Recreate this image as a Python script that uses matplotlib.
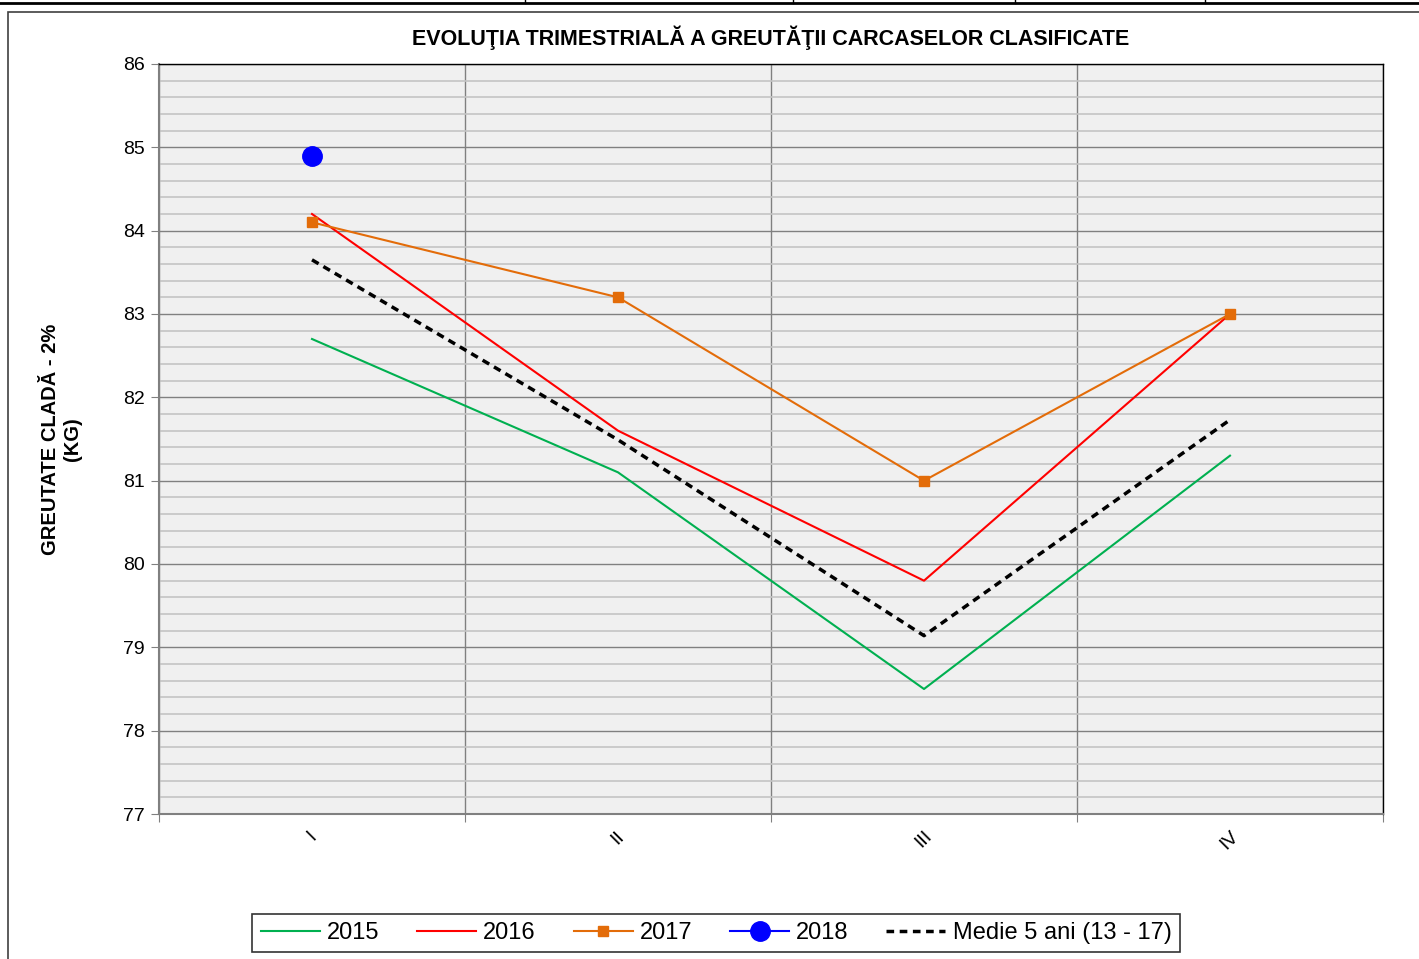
import matplotlib.pyplot as plt
from matplotlib.lines import Line2D
from matplotlib.patches import Rectangle

# quarterly carcass weight (kg)
quarters = ["I", "II", "III", "IV"]
w2015 = [82.7, 81.1, 78.5, 81.3]
w2016 = [84.2, 81.6, 79.8, 83.0]
w2017 = [84.1, 83.2, 81.0, 83.0]
w2018 = [84.9]
medie = [83.65, 81.49, 79.14, 81.73]

plt.rcParams['font.family'] = ['Liberation Sans', 'DejaVu Sans']

fig = plt.figure(figsize=(14.19, 9.59), dpi=100)

# frame around the chart and the table strip above it
fig.patches.append(Rectangle((8 / 1419, -0.01), 1.02, 1 - 12 / 959 + 0.01,
                             transform=fig.transFigure, fill=False,
                             edgecolor='#404040', linewidth=1.2))
fig.add_artist(Line2D([0, 1], [1 - 3 / 959, 1 - 3 / 959], transform=fig.transFigure,
                      color='black', linewidth=2))
for xp in [525, 793, 1015, 1205]:
    fig.add_artist(Line2D([xp / 1419, xp / 1419], [1 - 3 / 959, 1], transform=fig.transFigure,
                          color='black', linewidth=1))

ax = fig.add_axes([159 / 1419, 1 - 814 / 959, 1224 / 1419, 750 / 959])
ax.set_facecolor('#F0F0F0')

x = range(len(quarters))
ax.plot(x, w2015, color='#00B050', linewidth=1.5, label='2015')
ax.plot(x, w2016, color='#FF0000', linewidth=1.5, label='2016')
ax.plot(x, w2017, color='#E36C09', linewidth=1.5, marker='s', markersize=7, label='2017')
ax.plot(range(len(w2018)), w2018, color='#0000FF', linewidth=1.5, marker='o', markersize=14, label='2018')
ax.plot(x, medie, color='black', linewidth=2.5, linestyle=(0, (2.2, 1.6)), label='Medie 5 ani (13 - 17)')

ax.set_xlim(-0.5, 3.5)
ax.set_ylim(77, 86)

ax.set_yticks(range(77, 87))
ax.set_yticks([77 + i * 0.2 for i in range(46)], minor=True)
ax.set_xticks([-0.5, 0.5, 1.5, 2.5, 3.5])
ax.set_xticklabels([])
ax.set_xticks(list(x), minor=True)
ax.set_xticklabels(quarters, minor=True, rotation=45, fontsize=14)

ax.grid(which='minor', axis='y', color='#C4C4C4', linewidth=1.2)
ax.grid(which='major', color='#808080', linewidth=1)
ax.set_axisbelow(True)

ax.tick_params(axis='y', which='major', length=6, color='#808080', labelsize=14, pad=4)
ax.tick_params(axis='y', which='minor', length=0)
ax.tick_params(axis='x', which='major', length=6, color='#808080')
ax.tick_params(axis='x', which='minor', length=0, pad=10)

for s in ['left', 'bottom']:
    ax.spines[s].set_color('#808080')
    ax.spines[s].set_linewidth(1.5)
for s in ['top', 'right']:
    ax.spines[s].set_color('black')
    ax.spines[s].set_linewidth(1)

ax.set_title("EVOLUŢIA TRIMESTRIALĂ A GREUTĂŢII CARCASELOR CLASIFICATE",
             fontsize=15.5, fontweight='bold', pad=14)
ax.set_ylabel("GREUTATE CLADĂ - 2%\n(KG)", fontsize=14.5, fontweight='bold', labelpad=30)

leg = fig.legend(loc='center', bbox_to_anchor=(716 / 1419, 1 - 933 / 959), ncol=5,
                 fontsize=17, frameon=True, fancybox=False, edgecolor='black',
                 handlelength=2.5, columnspacing=1.6, handletextpad=0.3,
                 borderpad=0.35)
leg.get_frame().set_linewidth(1.2)

fig.savefig("out.png", dpi=100)
